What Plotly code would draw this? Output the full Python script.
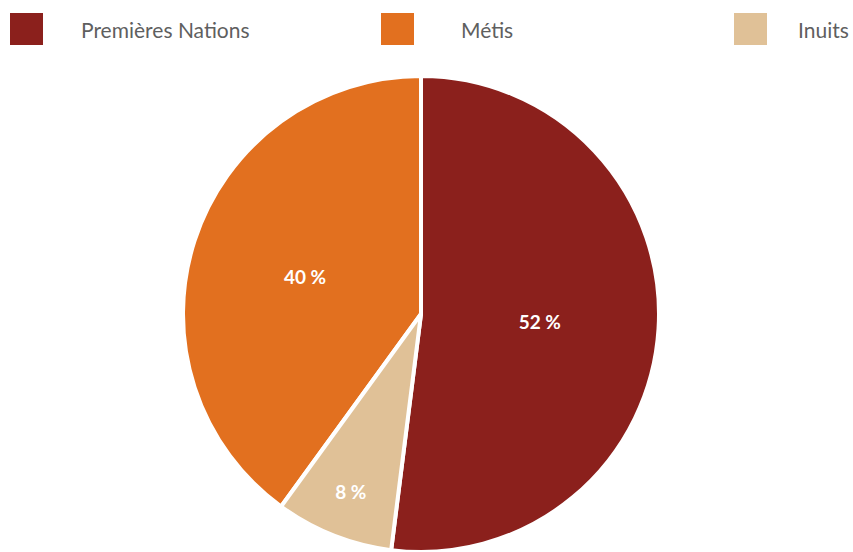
import plotly.graph_objects as go

categories = ["Premières Nations", "Métis", "Inuits"]
values = [52, 40, 8]
slice_labels = ["52 %", "40 %", "8 %"]
colors = ["#8B201C", "#E2701F", "#E0C197"]

W, H = 853, 552

fig = go.Figure()
fig.add_trace(go.Pie(
    labels=categories,
    values=values,
    text=slice_labels,
    textinfo="text",
    textposition="inside",
    insidetextorientation="horizontal",
    textfont=dict(family="Lato", size=19, color="white", weight="bold"),
    marker=dict(colors=colors, line=dict(color="white", width=4)),
    sort=False,
    direction="counterclockwise",
    rotation=0,
    showlegend=False,
    hoverinfo="label+percent",
    domain=dict(x=[(421 - 238) / W, (421 + 238) / W], y=[0, 476 / H]),
))

# Custom legend row (large square swatches) built from the category/color lists
swatch_x = [10, 381, 734]
text_pos = [(79, "left"), (459, "left"), (851, "right")]
shapes = []
annotations = []
for cat, col, sx, (tx, anchor) in zip(categories, colors, swatch_x, text_pos):
    shapes.append(dict(type="rect", xref="paper", yref="paper",
                       x0=sx / W, x1=(sx + 33) / W,
                       y0=1 - 45 / H, y1=1 - 13 / H,
                       fillcolor=col, line=dict(width=0)))
    annotations.append(dict(text=cat, xref="paper", yref="paper",
                            x=tx / W, y=1 - 29 / H, xanchor=anchor, yanchor="middle",
                            showarrow=False,
                            font=dict(family="Lato", size=21, color="#5F5F5F")))

fig.update_layout(
    width=W, height=H,
    margin=dict(l=0, r=0, t=0, b=0),
    paper_bgcolor="white",
    plot_bgcolor="white",
    shapes=shapes,
    annotations=annotations,
)

fig.write_html(
    "out.html",
    config={"displayModeBar": False},
    post_script="document.body.style.margin='0';document.body.style.overflow='hidden';",
)
